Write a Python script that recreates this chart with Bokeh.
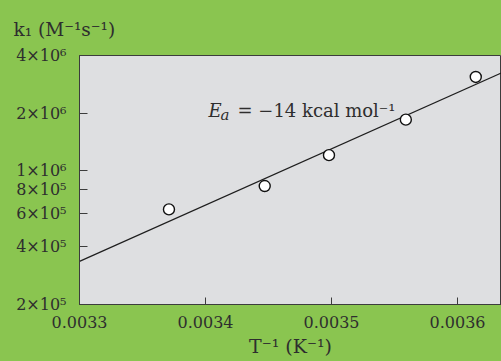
from bokeh.plotting import figure
from bokeh.models import FixedTicker, Label, Range1d
from bokeh.embed import file_html
from bokeh.resources import INLINE

# ---- data ----
inv_T = [0.003371, 0.003447, 0.003498, 0.003559, 0.0036145]
k1 = [6.28e5, 8.32e5, 1.206e6, 1.849e6, 3.09e6]
fit_x = [0.0033, 0.00364]
fit_y = [3.36e5, 3.36e6]

x_ticks = [0.0033, 0.0034, 0.0035, 0.0036]
x_tick_labels = ["0.0033", "0.0034", "0.0035", "0.0036"]
y_ticks = [2e5, 4e5, 6e5, 8e5, 1e6, 2e6, 4e6]
y_tick_labels = ["2×10⁵", "4×10⁵", "6×10⁵", "8×10⁵", "1×10⁶", "2×10⁶", "4×10⁶"]

GREEN = "#8AC550"
PANEL = "#DEDFE1"
INK = "#2E2E2E"
AXIS = "#3C3C3C"
FONT = "DejaVu Serif"

p = figure(width=501, height=361, y_axis_type="log",
           x_range=Range1d(0.0033, 0.00363492), y_range=Range1d(2e5, 4e6),
           output_backend="svg", toolbar_location=None,
           min_border_left=79, min_border_right=0, min_border_top=55, min_border_bottom=57)

p.background_fill_color = PANEL
p.border_fill_color = GREEN
p.outline_line_color = AXIS
p.outline_line_width = 1
p.grid.visible = False

# y-axis title placed top-left as the plot title
p.title.text = "k₁ (M⁻¹s⁻¹)"
p.title.align = "left"
p.title.offset = -66
p.title.standoff = 31
p.title.text_font = FONT
p.title.text_font_size = "18.5px"
p.title.text_font_style = "normal"
p.title.text_color = INK

for ax in (p.xaxis[0], p.yaxis[0]):
    ax.axis_line_color = AXIS
    ax.major_tick_line_color = AXIS
    ax.major_tick_out = 0
    ax.minor_tick_line_color = None
    ax.major_label_text_font = FONT
    ax.major_label_text_font_size = "16px"
    ax.major_label_text_color = INK

p.xaxis.ticker = FixedTicker(ticks=x_ticks)
p.xaxis.major_label_overrides = dict(zip(x_ticks, x_tick_labels))
p.xaxis.major_tick_in = 7
p.xaxis.major_label_standoff = 11
p.xaxis.axis_label = "T⁻¹ (K⁻¹)"
p.xaxis.axis_label_text_font = FONT
p.xaxis.axis_label_text_font_size = "19px"
p.xaxis.axis_label_text_font_style = "normal"
p.xaxis.axis_label_text_color = INK
p.xaxis.axis_label_standoff = 4

p.yaxis.ticker = FixedTicker(ticks=y_ticks)
p.yaxis.major_label_overrides = dict(zip(y_ticks, y_tick_labels))
p.yaxis.major_tick_in = 8
p.yaxis.major_label_standoff = 13

p.line(fit_x, fit_y, line_color="#1E1E1E", line_width=1.2)
p.scatter(inv_T, k1, size=11, fill_color="white", line_color="#111111", line_width=1.4)

def lab(x, y, text, size="18px", style="normal"):
    p.add_layout(Label(x=x, y=y, x_units="screen", y_units="screen", text=text,
                       text_font=FONT, text_font_size=size, text_font_style=style,
                       text_color=INK, text_baseline="alphabetic"))

# annotation
lab(129, 194, "E", style="italic")
lab(141, 190, "a", size="15px", style="italic")
lab(158, 194, "= −14 kcal mol⁻¹")

html = file_html(p, INLINE)
css = "<style>html, body { margin: 0 !important; padding: 0; background: #8AC550; overflow: hidden; }</style>"
html = html.replace("</head>", css + "</head>", 1)
open("out.html", "w").write(html)
